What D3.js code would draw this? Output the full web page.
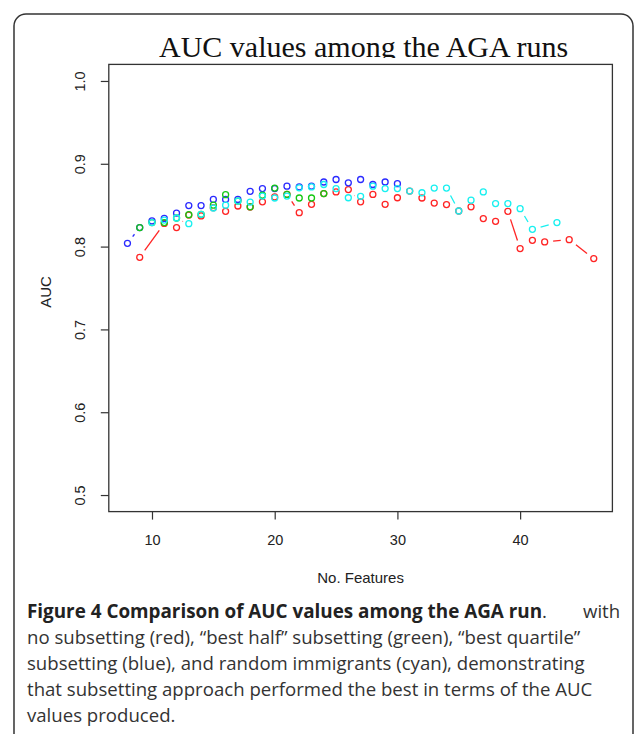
<!DOCTYPE html>
<html>
<head>
<meta charset="utf-8">
<script src="https://d3js.org/d3.v7.min.js"></script>
<style>
  body { margin: 0; background: #fff; }
  svg { display: block; }
</style>
</head>
<body>
<div class="vis"></div>
<script>
  // number of features per run and the AUC values
  var redN   = [9, 11, 12, 13, 14, 15, 16, 17, 18, 19, 20, 21, 22, 23, 24, 25, 26, 27, 28, 29, 30, 31, 32, 33, 34, 35, 36, 37, 38, 39, 40, 41, 42, 44, 46];
  var redAuc = [0.787, 0.828, 0.823, 0.838, 0.837, 0.847, 0.8426, 0.849, 0.8478, 0.854, 0.860, 0.863, 0.841, 0.851, 0.864, 0.866, 0.8688, 0.854, 0.863, 0.851, 0.859, 0.867, 0.8587, 0.8526, 0.8507, 0.843, 0.848, 0.8338, 0.8305, 0.8426, 0.7976, 0.8076, 0.8056, 0.8084, 0.7855];

  var blueN   = [8, 9, 10, 11, 12, 13, 14, 15, 16, 17, 18, 19, 20, 21, 22, 23, 24, 25, 26, 27, 28, 29, 30];
  var blueAuc = [0.804, 0.823, 0.831, 0.834, 0.8405, 0.8495, 0.8495, 0.857, 0.857, 0.857, 0.8667, 0.870, 0.870, 0.873, 0.872, 0.873, 0.878, 0.881, 0.877, 0.881, 0.875, 0.878, 0.876];

  var greenN   = [9, 10, 11, 12, 13, 14, 15, 16, 17, 18, 19, 20, 21, 22, 23, 24];
  var greenAuc = [0.823, 0.829, 0.829, 0.8345, 0.8386, 0.839, 0.850, 0.8627, 0.855, 0.848, 0.862, 0.8707, 0.863, 0.8587, 0.8587, 0.864];

  var cyanN   = [10, 11, 12, 13, 14, 15, 16, 17, 18, 19, 20, 21, 22, 23, 24, 25, 26, 27, 28, 29, 30, 31, 32, 33, 34, 35, 36, 37, 38, 39, 40, 41, 43];
  var cyanAuc = [0.829, 0.832, 0.8345, 0.8277, 0.839, 0.8466, 0.850, 0.855, 0.8538, 0.861, 0.8587, 0.861, 0.871, 0.872, 0.875, 0.870, 0.859, 0.8607, 0.873, 0.870, 0.870, 0.867, 0.865, 0.8707, 0.8707, 0.843, 0.856, 0.866, 0.852, 0.852, 0.8458, 0.8209, 0.829];

  var xTicks = [10, 20, 30, 40];
  var yTicks = [0.5, 0.6, 0.7, 0.8, 0.9, 1.0];

  var captionLines = [
    [{t: "Figure 4 Comparison of AUC values among the AGA run", b: true}, {t: ".", b: false}, {t: "with", b: false, x: 583}],
    [{t: "no subsetting (red), \u201cbest half\u201d subsetting (green), \u201cbest quartile\u201d", b: false}],
    [{t: "subsetting (blue), and random immigrants (cyan), demonstrating", b: false}],
    [{t: "that subsetting approach performed the best in terms of the AUC", b: false}],
    [{t: "values produced.", b: false}]
  ];

  var W = 635, H = 734;
  var svg = d3.select('.vis').append('svg')
    .attr('width', W)
    .attr('height', H);

  // outer frame of the figure
  svg.append('rect')
    .attr('x', 14).attr('y', 14)
    .attr('width', 619).attr('height', 740)
    .attr('rx', 12)
    .attr('fill', 'none')
    .attr('stroke', '#333')
    .attr('stroke-width', 1.5);

  // plot region, R style 4% padding on the data range
  var x = d3.scaleLinear().domain([6.48, 47.52]).range([108.8, 612.4]);
  var y = d3.scaleLinear().domain([0.48, 1.02]).range([511.6, 64.4]);

  var textCol = '#222';
  var sans = '"Liberation Sans", Arial, sans-serif';

  // title (clipped at the bottom like the original)
  svg.append('clipPath').attr('id', 'tclip')
    .append('rect').attr('x', 0).attr('y', 0).attr('width', W).attr('height', 58);
  svg.append('text')
    .attr('clip-path', 'url(#tclip)')
    .attr('x', (x.range()[0] + x.range()[1]) / 2 + 3)
    .attr('y', 57)
    .attr('text-anchor', 'middle')
    .style('font-family', '"Liberation Serif", "Times New Roman", serif')
    .style('font-size', '30px')
    .attr('fill', '#111')
    .text('AUC values among the AGA runs');

  // axes
  var xAxis = svg.append('g')
    .attr('transform', 'translate(0,' + y.range()[0] + ')')
    .call(d3.axisBottom(x).tickValues(xTicks).tickSize(8).tickPadding(15).tickFormat(d3.format('d')));
  var yAxis = svg.append('g')
    .attr('transform', 'translate(' + x.range()[0] + ',0)')
    .call(d3.axisLeft(y).tickValues(yTicks).tickSize(8).tickFormat(d3.format('.1f')));

  [xAxis, yAxis].forEach(function (g) {
    g.select('.domain').remove();
    g.selectAll('line').attr('stroke', '#333').attr('stroke-width', 1.2);
    g.selectAll('text')
      .attr('fill', textCol)
      .style('font-family', sans)
      .style('font-size', '14.5px');
  });
  yAxis.selectAll('text')
    .attr('x', null)
    .attr('text-anchor', 'middle')
    .attr('transform', 'translate(-29,0) rotate(-90)')
    .attr('y', 0)
    .attr('dy', '0.35em');

  // box
  svg.append('rect')
    .attr('x', x.range()[0]).attr('y', y.range()[1])
    .attr('width', x.range()[1] - x.range()[0])
    .attr('height', y.range()[0] - y.range()[1])
    .attr('fill', 'none')
    .attr('stroke', '#333')
    .attr('stroke-width', 1.3);

  // axis labels
  svg.append('text')
    .attr('x', (x.range()[0] + x.range()[1]) / 2)
    .attr('y', 583)
    .attr('text-anchor', 'middle')
    .style('font-family', sans)
    .style('font-size', '15px')
    .attr('fill', textCol)
    .text('No. Features');
  svg.append('text')
    .attr('transform', 'translate(51,' + ((y.range()[0] + y.range()[1]) / 2 + 4) + ') rotate(-90)')
    .attr('text-anchor', 'middle')
    .style('font-family', sans)
    .style('font-size', '15px')
    .attr('fill', textCol)
    .text('AUC');

  // R type="b": points with line pieces in between, leaving a gap round each point
  var gap = 8.5;
  function drawSeries(ns, vals, col) {
    var pts = ns.map(function (n, i) { return [x(n), y(vals[i])]; });
    var g = svg.append('g');
    for (var i = 1; i < pts.length; i++) {
      var dx = pts[i][0] - pts[i - 1][0], dy = pts[i][1] - pts[i - 1][1];
      var len = Math.sqrt(dx * dx + dy * dy);
      if (len > 2 * gap) {
        var ux = dx / len, uy = dy / len;
        g.append('line')
          .attr('x1', pts[i - 1][0] + ux * gap).attr('y1', pts[i - 1][1] + uy * gap)
          .attr('x2', pts[i][0] - ux * gap).attr('y2', pts[i][1] - uy * gap)
          .attr('stroke', col).attr('stroke-width', 1.3);
      }
    }
    g.selectAll('circle')
      .data(pts)
      .join('circle')
      .attr('cx', function (d) { return d[0]; })
      .attr('cy', function (d) { return d[1]; })
      .attr('r', 3)
      .attr('fill', 'none')
      .attr('stroke', col)
      .attr('stroke-width', 1.3);
  }

  drawSeries(redN, redAuc, '#ff2424');
  drawSeries(blueN, blueAuc, '#2a2aff');
  drawSeries(greenN, greenAuc, '#14c814');
  drawSeries(cyanN, cyanAuc, '#18f0f0');

  // caption
  var cap = svg.append('g')
    .style('font-family', '"Open Sans", sans-serif')
    .style('font-size', '18.6px')
    .attr('fill', '#333');
  captionLines.forEach(function (line, i) {
    var t = cap.append('text')
      .attr('x', 27)
      .attr('y', 618 + i * 26);
    line.forEach(function (part) {
      var s = t.append('tspan')
        .attr('font-weight', part.b ? 'bold' : 'normal')
        .attr('fill', part.b ? '#222' : '#333')
        .style('font-size', part.b ? '18.85px' : null)
        .text(part.t);
      if (part.x) s.attr('x', part.x);
    });
  });
</script>
</body>
</html>
